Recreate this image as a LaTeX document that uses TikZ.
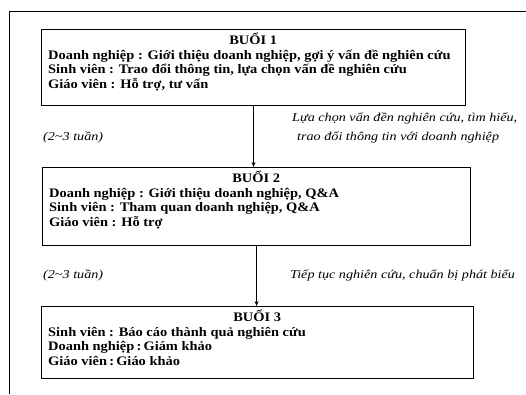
\documentclass[tikz,border=0pt]{standalone}
\usepackage{fontspec}
\setmainfont[BoldFeatures={FakeStretch=1.11},ItalicFeatures={FakeStretch=1.18}]{Liberation Serif}
\usetikzlibrary{arrows.meta}

\begin{document}
\begin{tikzpicture}[x=1pt,y=-1pt]
\useasboundingbox (0,0) rectangle (526,394);
\draw[line width=0.9pt] (9,394) -- (9,11) -- (526,11);

\begin{scope}[every node/.style={rectangle,draw,line width=1.1pt,anchor=north west,inner sep=0pt}]
    \node[minimum width=424pt,minimum height=76pt] (B1) at (41,29) {};
    \node[minimum width=428pt,minimum height=78pt] (B2) at (42,167) {};
    \node[minimum width=432pt,minimum height=72pt] (B3) at (41,306) {};
\end{scope}

\begin{scope}[every node/.style={anchor=north west,align=left,inner sep=0pt,
              font=\fontsize{13}{14.5}\selectfont\bfseries}]
    \node (T1) at ([shift={(7,4)}]B1.north west)
      {\makebox[410pt]{BUỔI 1}\\
       Doanh nghiệp : Giới thiệu doanh nghiệp, gợi ý vấn đề nghiên cứu\\
       Sinh viên : Trao đổi thông tin, lựa chọn vấn đề nghiên cứu\\
       Giáo viên : Hỗ trợ, tư vấn};
    \node (T2) at ([shift={(7,4)}]B2.north west)
      {\makebox[414pt]{BUỔI 2}\\
       Doanh nghiệp : Giới thiệu doanh nghiệp, Q\&A\\
       Sinh viên : Tham quan doanh nghiệp, Q\&A\\
       Giáo viên : Hỗ trợ};
    \node (T3) at ([shift={(7,4)}]B3.north west)
      {\makebox[418pt]{BUỔI 3}\\
       Sinh viên : Báo cáo thành quả nghiên cứu\\
       Doanh nghiệp\,:\,Giám khảo\\
       Giáo viên\,:\,Giáo khảo};
\end{scope}

\begin{scope}[every node/.style={anchor=west,inner sep=0pt,
              font=\fontsize{12}{14}\selectfont\itshape}]
    \node (L1) at (292,118) {Lựa chọn vấn đền nghiên cứu, tìm hiểu,};
    \node (L2) at (297,137) {trao đổi thông tin với doanh nghiệp};
    \node (W1) at (43,137) {(2\textasciitilde3 tuần)};
    \node (W2) at (43,275) {(2\textasciitilde3 tuần)};
    \node (L3) at (290,275) {Tiếp tục nghiên cứu, chuẩn bị phát biểu};
\end{scope}

\begin{scope}[>={Stealth[length=5pt,width=4pt]}, line width=0.9pt]
    \draw[->] (B1.south) -- (B1.south |- B2.north);
    \draw[->] (B2.south) -- (B2.south |- B3.north);
\end{scope}
\end{tikzpicture}
\end{document}
